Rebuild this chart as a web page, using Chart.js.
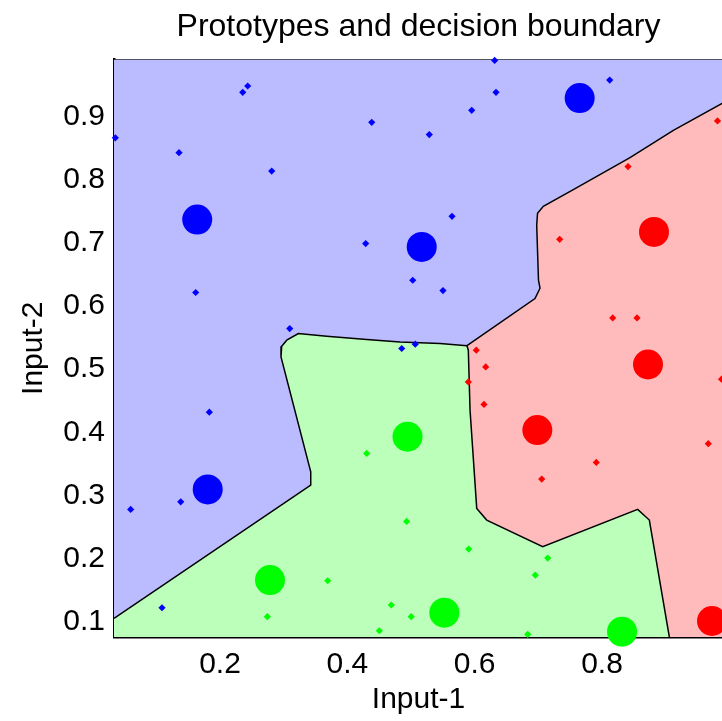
<!DOCTYPE html>
<html>
<head>
<meta charset="utf-8">
<title>Prototypes and decision boundary</title>
<script src="https://cdn.jsdelivr.net/npm/chart.js@4.4.1/dist/chart.umd.min.js"></script>
<style>
  html, body { margin: 0; padding: 0; background: #ffffff; overflow: hidden; width: 722px; height: 721px; }
  #frame { width: 740px; height: 721px; }
</style>
</head>
<body>
<div id="frame"><canvas id="chart" width="740" height="721"></canvas></div>
<script>
// Axis limits and tick labels
const xLimits = [0.0335, 0.99];
const yLimits = [0.0763, 0.9901];
const xTicks = [0.2, 0.4, 0.6, 0.8];
const yTicks = [0.1, 0.2, 0.3, 0.4, 0.5, 0.6, 0.7, 0.8, 0.9];

// Training samples per class
const blueX = [0.2435, 0.2357, 0.4383, 0.0356, 0.1356, 0.2812, 0.4288, 0.5027, 0.1618, 0.3095, 0.4854, 0.5067,
               0.6314, 0.8121, 0.6335, 0.5953, 0.5287, 0.5644, 0.5502, 0.1832, 0.1383, 0.0597, 0.1089];
const blueY = [0.948, 0.938, 0.8905, 0.866, 0.8426, 0.8135, 0.6987, 0.6407, 0.6213, 0.5643, 0.5327, 0.5395,
               0.9885, 0.9574, 0.938, 0.9095, 0.8711, 0.7419, 0.6244, 0.432, 0.2902, 0.2782, 0.1226];
const redX = [0.9814, 0.8408, 0.7335, 0.8168, 0.8549, 0.6025, 0.6173, 0.59, 0.6146, 0.9877, 0.9669, 0.791, 0.7053];
const redY = [0.8927, 0.8205, 0.7055, 0.5811, 0.5811, 0.53, 0.5036, 0.4799, 0.4442, 0.4842, 0.3821, 0.3525, 0.3261];
const greenX = [0.4304, 0.4932, 0.3692, 0.469, 0.2743, 0.5003, 0.4502, 0.5906, 0.7147, 0.6952, 0.6833];
const greenY = [0.3667, 0.2592, 0.1653, 0.1269, 0.1084, 0.1084, 0.0862, 0.2154, 0.2012, 0.1743, 0.0806];

// Learned prototypes per class
const blueProtoX = [0.1642, 0.5168, 0.7649, 0.1807];
const blueProtoY = [0.7367, 0.6934, 0.9289, 0.3098];
const redProtoX = [0.8816, 0.8722, 0.6984, 0.9727];
const redProtoY = [0.7171, 0.5074, 0.4036, 0.1016];
const greenProtoX = [0.4945, 0.2785, 0.5523, 0.8314];
const greenProtoY = [0.3933, 0.1664, 0.1147, 0.0847];

// Decision boundary segments (all meet at the triple junction)
const blueRedX = [0.99, 0.912, 0.8439, 0.7549, 0.7078, 0.6987, 0.6974, 0.7002, 0.7026, 0.6947, 0.5879];
const blueRedY = [0.9213, 0.8779, 0.8347, 0.7841, 0.7577, 0.7466, 0.7277, 0.6407, 0.6281, 0.6118, 0.5372];
const blueGreenX = [0.5879, 0.5455, 0.4827, 0.4304, 0.3676, 0.323, 0.3048, 0.2969, 0.2958, 0.3425, 0.3425, 0.0335];
const blueGreenY = [0.5372, 0.5406, 0.5432, 0.547, 0.5522, 0.5564, 0.5459, 0.5364, 0.5195, 0.3376, 0.3166, 0.1058];
const greenRedX = [0.5879, 0.59, 0.5927, 0.6032, 0.6189, 0.7068, 0.856, 0.8743, 0.9057];
const greenRedY = [0.5372, 0.53, 0.4352, 0.2798, 0.2613, 0.2191, 0.2782, 0.2613, 0.0763];

const pts = (xs, ys) => xs.map((x, i) => ({ x, y: ys[i] }));
const rev = a => a.slice().reverse();

const [xMin, xMax] = xLimits;
const [yMin, yMax] = yLimits;

// Class regions as closed polygons
const blueRegion = [{ x: xMin, y: yMax }, { x: xMax, y: yMax }]
  .concat(pts(blueRedX, blueRedY), pts(blueGreenX, blueGreenY).slice(1));
const redRegion = pts(blueRedX, blueRedY)
  .concat(pts(greenRedX, greenRedY).slice(1), [{ x: xMax, y: yMin }]);
const greenRegion = pts(rev(blueGreenX), rev(blueGreenY))
  .concat(pts(greenRedX, greenRedY).slice(1), [{ x: xMin, y: yMin }]);

const FONT = "'Liberation Sans', Arial, Helvetica, sans-serif";

const region = (data, color, order) => ({
  type: 'line', data, order, fill: 'shape', backgroundColor: color,
  borderWidth: 0, pointRadius: 0, tension: 0
});
const boundary = (data) => ({
  type: 'line', data, order: 3, fill: false, borderColor: '#000000',
  borderWidth: 1.5, pointRadius: 0, tension: 0
});
const samples = (data, color) => ({
  type: 'scatter', data, order: 2, pointStyle: 'rectRot', pointRadius: 3.6,
  backgroundColor: color, borderWidth: 0, clip: false
});
const protos = (data, color) => ({
  type: 'scatter', data, order: 1, pointStyle: 'circle', pointRadius: 15,
  backgroundColor: color, borderWidth: 0, clip: false
});

new Chart(document.getElementById('chart'), {
  type: 'scatter',
  data: {
    datasets: [
      region(blueRegion, '#bbbbff', 6),
      region(redRegion, '#ffbbbb', 6),
      region(greenRegion, '#bbffbb', 6),
      boundary(pts(blueRedX, blueRedY)),
      boundary(pts(blueGreenX, blueGreenY)),
      boundary(pts(greenRedX, greenRedY)),
      samples(pts(blueX, blueY), '#0000ff'),
      samples(pts(redX, redY), '#ff0000'),
      samples(pts(greenX, greenY), '#00ff00'),
      protos(pts(blueProtoX, blueProtoY), '#0000ff'),
      protos(pts(redProtoX, redProtoY), '#ff0000'),
      protos(pts(greenProtoX, greenProtoY), '#00ff00')
    ]
  },
  options: {
    responsive: false,
    animation: false,
    devicePixelRatio: 1,
    layout: { padding: { left: 0, right: 17, top: 0, bottom: 0 } },
    plugins: {
      legend: { display: false },
      tooltip: { enabled: false },
      title: {
        display: true,
        fullSize: false,
        text: 'Prototypes and decision boundary',
        color: '#000000',
        font: { family: FONT, size: 32, weight: 'normal' },
        padding: { top: 8, bottom: 13 }
      }
    },
    scales: {
      x: {
        type: 'linear', position: 'bottom', min: xMin, max: xMax,
        afterBuildTicks: s => { s.ticks = xTicks.map(v => ({ value: v })); },
        afterFit: s => { s.height = 84; },
        grid: { display: false, drawTicks: false },
        border: { display: true, color: '#000000', width: 2.5 },
        ticks: { color: '#000000', padding: 10, font: { family: FONT, size: 30 }, callback: v => v.toFixed(1) },
        title: { display: true, text: 'Input-1', color: '#000000', font: { family: FONT, size: 30 }, padding: 3 }
      },
      xTop: {
        type: 'linear', position: 'top', min: xMin, max: xMax,
        afterFit: s => { s.height = 0; },
        grid: { display: false, drawTicks: false },
        border: { display: true, color: '#333333', width: 1.5 },
        ticks: { display: false }
      },
      y: {
        type: 'linear', position: 'left', min: yMin, max: yMax,
        afterBuildTicks: s => { s.ticks = yTicks.map(v => ({ value: v })); },
        afterFit: s => { s.width = 114; },
        grid: { display: false, drawTicks: false },
        border: { display: true, color: '#000000', width: 2.5 },
        ticks: { color: '#000000', padding: 9, font: { family: FONT, size: 30 }, callback: v => v.toFixed(1) },
        title: { display: true, text: 'Input-2', color: '#000000', font: { family: FONT, size: 30 }, padding: 16 }
      }
    }
  }
});
</script>
</body>
</html>
